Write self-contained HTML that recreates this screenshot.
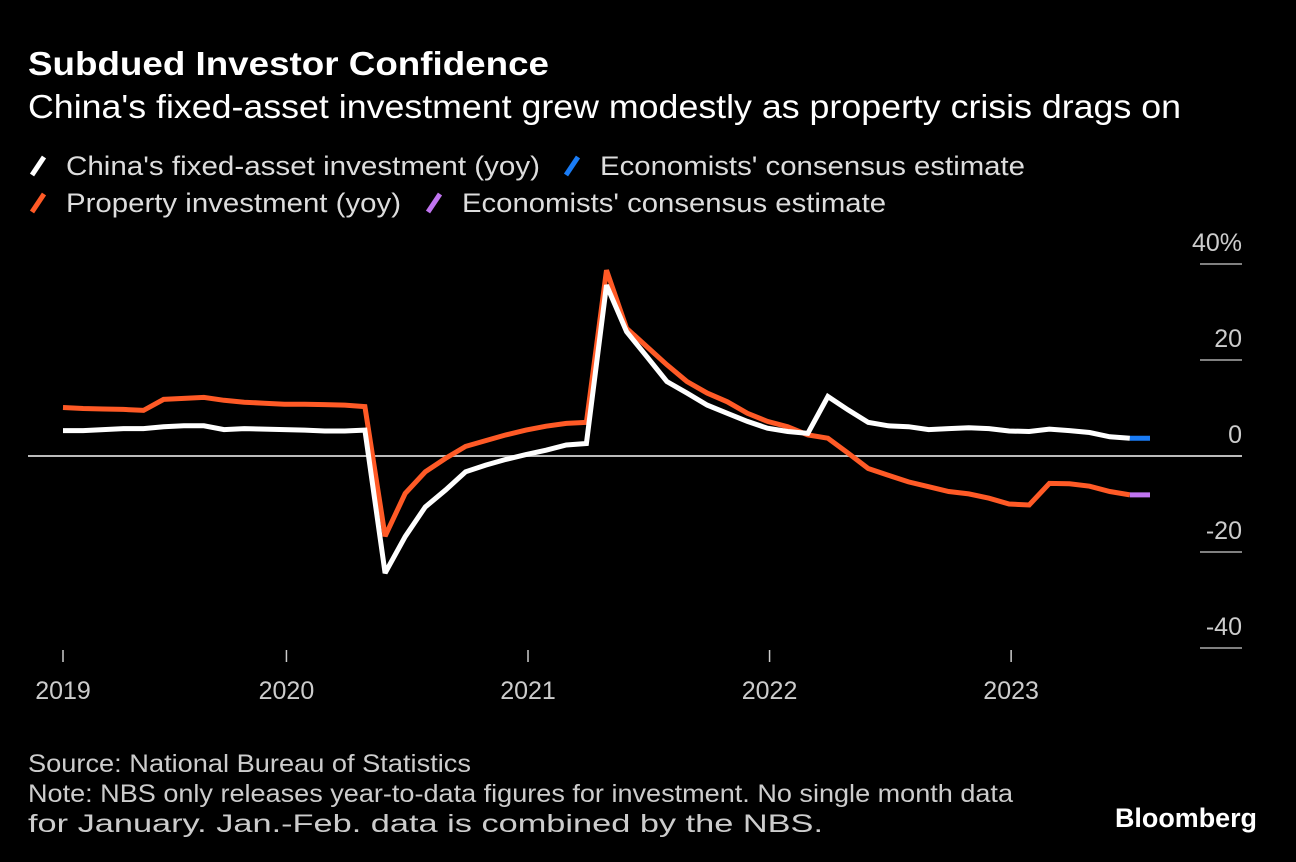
<!DOCTYPE html>
<html><head><meta charset="utf-8"><style>
html,body{margin:0;padding:0;background:#000;}
svg{display:block;font-family:"Liberation Sans",sans-serif;}
</style></head><body>
<svg id="chart" width="1296" height="862" viewBox="0 0 1296 862" xmlns="http://www.w3.org/2000/svg">
<rect width="1296" height="862" fill="#000"/>
<text x="28" y="75" fill="#fff" font-size="33" font-weight="bold" textLength="521" lengthAdjust="spacingAndGlyphs">Subdued Investor Confidence</text>
<text x="28" y="118" fill="#fff" font-size="33" textLength="1153" lengthAdjust="spacingAndGlyphs">China's fixed-asset investment grew modestly as property crisis drags on</text>
<g font-size="27" fill="#ddd">
<g><line x1="32" y1="175" x2="44" y2="157" stroke="#fff" stroke-width="5"/><text x="66" y="175" textLength="474" lengthAdjust="spacingAndGlyphs">China's fixed-asset investment (yoy)</text></g>
<g><line x1="566" y1="175" x2="578" y2="157" stroke="#1a7cf5" stroke-width="5"/><text x="600" y="175" textLength="425" lengthAdjust="spacingAndGlyphs">Economists' consensus estimate</text></g>
<g><line x1="32" y1="212" x2="44" y2="194" stroke="#ff5a26" stroke-width="5"/><text x="66" y="212" textLength="335" lengthAdjust="spacingAndGlyphs">Property investment (yoy)</text></g>
<g><line x1="428" y1="212" x2="440" y2="194" stroke="#c074f0" stroke-width="5"/><text x="462" y="212" textLength="424" lengthAdjust="spacingAndGlyphs">Economists' consensus estimate</text></g>
</g>
<g id="axes"></g>
<g id="plot"></g>
<g font-size="25" fill="#ccc">
<text x="28" y="772" textLength="443" lengthAdjust="spacingAndGlyphs">Source: National Bureau of Statistics</text>
<text x="28" y="802" textLength="985" lengthAdjust="spacingAndGlyphs">Note: NBS only releases year-to-data figures for investment. No single month data</text>
<text x="28" y="832" textLength="795" lengthAdjust="spacingAndGlyphs">for January. Jan.-Feb. data is combined by the NBS.</text>
</g>
<text x="1115" y="827" fill="#fff" font-size="27" font-weight="bold" textLength="142" lengthAdjust="spacingAndGlyphs">Bloomberg</text>
</svg>
<script>
const faiValues=[5.3,5.3,5.5,5.7,5.7,6.1,6.3,6.3,5.5,5.7,5.6,5.5,5.4,5.2,5.2,5.4,-24.4,-16.8,-10.6,-7.1,-3.3,-1.9,-0.7,0.3,1.2,2.3,2.6,35.6,25.9,20.7,15.5,13.1,10.6,8.9,7.2,5.8,5.1,4.7,12.4,9.6,7.0,6.3,6.1,5.5,5.7,5.9,5.7,5.2,5.1,5.6,5.3,4.9,4.0,3.7];
const propertyValues=[10.1,9.9,9.8,9.7,9.5,11.8,12.0,12.2,11.6,11.2,11.0,10.8,10.8,10.7,10.6,10.3,-16.7,-7.8,-3.3,-0.5,2.0,3.2,4.4,5.4,6.2,6.8,7.0,38.7,26.6,22.8,19.0,15.5,13.1,11.3,8.9,7.2,6.1,4.4,3.7,0.6,-2.6,-4.0,-5.4,-6.4,-7.4,-7.9,-8.8,-10.0,-10.2,-5.7,-5.8,-6.3,-7.4,-8.1];
const faiEstimate=[3.7,3.7];
const propertyEstimate=[-8.1,-8.1];
const yTicks=[40,20,0,-20,-40];
const yTickLabels=["40%","20","0","-20","-40"];
const xTickIndex=[0,11.1,23.1,35.1,47.1];
const xTickLabels=["2019","2020","2021","2022","2023"];

const NS="http://www.w3.org/2000/svg";
const xS=i=>63+i*20.13;
const yS=v=>456-v*4.8;
function mk(tag,attrs,parent){const e=document.createElementNS(NS,tag);for(const k in attrs)e.setAttribute(k,attrs[k]);parent.appendChild(e);return e;}
const axes=document.getElementById('axes'),plot=document.getElementById('plot');
yTicks.forEach((v,i)=>{
  const y=yS(v);
  const l=mk('line',{x1:v===0?28:1200,x2:1242,y1:y,y2:y,stroke:v===0?'#bbb':'#ccc','stroke-width':v===0?2:1.2},axes);
  
  
  const t=mk('text',{x:1242,y:y-13,fill:'#ccc','font-size':25,'text-anchor':'end'},axes);
  t.textContent=yTickLabels[i];
  
  
});
xTickIndex.forEach((xi,i)=>{
  const x=xS(xi);
  const l=mk('line',{x1:x,x2:x,y1:650,y2:662,stroke:'#ccc','stroke-width':1.5},axes);
  
  
  const t=mk('text',{x:x,y:699,fill:'#ccc','font-size':25,'text-anchor':'middle'},axes);
  t.textContent=xTickLabels[i];
  
  
});
function line(vals,start,color,name){
  const pts=vals.map((v,i)=>xS(start+i).toFixed(1)+','+yS(v).toFixed(1)).join(' ');
  const p=mk('polyline',{points:pts,fill:'none',stroke:color,'stroke-width':5,'stroke-linejoin':'miter','stroke-miterlimit':3},plot);
  
  
}
line(propertyValues,0,'#ff5a26','property-investment-line');
line(propertyEstimate,propertyValues.length-1,'#c074f0','property-estimate-line');
line(faiValues,0,'#ffffff','fai-line');
line(faiEstimate,faiValues.length-1,'#1a7cf5','fai-estimate-line');
</script>
</body></html>
